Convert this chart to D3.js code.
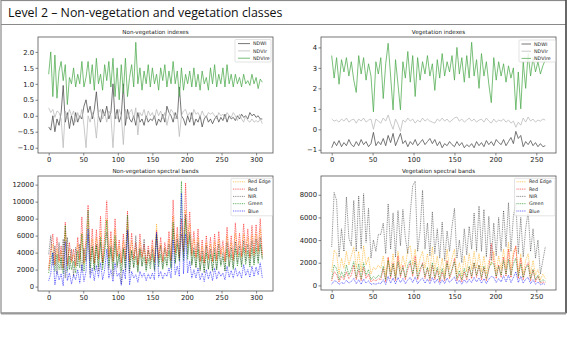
<!DOCTYPE html>
<html>
<head>
<meta charset="utf-8">
<script src="https://cdn.jsdelivr.net/npm/d3@7"></script>
<style>
body { margin: 0; background: #fff; }
svg { display: block; font-family: "DejaVu Sans", sans-serif; }
</style>
</head>
<body>
<svg id="chart" width="567" height="340"></svg>
<script>
var step = 3

// ---- Non-vegetation indexes (idx 0..309)
var nvNDWI = [-0.35,-0.45,0.0,-0.5,-0.1,-0.3,0.1,0.95,-0.2,0.1,
  -0.4,0.0,-0.3,0.1,-0.2,0.0,-0.1,0.3,0.5,0.1,
  0.3,-0.1,0.2,0.75,0.0,-0.2,0.2,0.0,0.3,-0.1,
  0.1,1.0,-0.1,0.2,-0.2,0.0,1.0,-0.3,0.2,-0.1,
  -0.2,0.0,-0.3,0.1,-0.2,-0.1,-0.3,0.0,-0.2,-0.1,
  -0.15,0.0,-0.3,-0.1,-0.2,0.05,-0.2,0.3,0.1,0.0,
  -0.2,0.1,-0.1,0.9,0.0,-0.1,-0.3,0.0,-0.2,0.1,
  -0.3,-0.1,-0.2,0.0,-0.35,-0.1,0.0,-0.2,-0.1,-0.25,
  -0.1,0.0,-0.2,-0.05,-0.15,0.05,-0.2,0.0,-0.1,-0.05,
  -0.15,0.0,-0.1,0.05,-0.05,0.0,-0.1,0.1,0.0,0.05,
  -0.05,0.0,-0.1,-0.1]
var nvNDVIr = [0.25,0.1,0.2,-0.05,0.15,0.1,-0.1,-1.0,0.15,-0.1,
  0.2,0.0,0.15,-0.2,0.1,-0.1,0.2,-0.3,-1.0,0.0,
  -0.2,0.1,-0.1,-0.7,0.1,0.2,-0.1,0.1,-0.2,0.15,
  0.0,-1.0,0.1,-0.1,0.2,0.0,-0.9,0.2,-0.1,0.1,
  0.2,-0.1,0.25,-0.6,0.1,0.0,0.2,-0.1,0.15,0.0,
  0.1,-0.1,0.2,0.0,0.15,-0.1,0.1,-0.3,0.0,0.2,
  0.1,-0.1,0.1,-0.65,0.0,0.15,0.2,0.0,0.1,-0.1,
  0.2,0.05,0.1,-0.05,0.15,0.0,-0.05,0.1,0.05,0.1,
  0.0,-0.1,0.1,0.0,0.05,-0.1,0.1,0.0,-0.05,0.1,
  0.0,-0.15,0.05,-0.1,-0.2,0.0,-0.15,-0.2,-0.1,-0.2,
  -0.15,-0.2,-0.1,-0.25]
var nvNDVIre = [1.3,2.0,0.6,1.9,0.55,1.4,1.7,1.1,1.6,0.35,
  1.2,1.0,1.5,0.9,1.3,1.0,1.7,0.9,1.2,1.7,
  1.0,1.6,0.8,1.8,1.0,1.3,0.8,1.6,1.1,1.7,
  0.9,1.8,0.6,1.5,0.5,1.6,0.7,1.8,0.6,1.2,
  1.6,0.9,2.3,1.0,1.5,0.8,1.4,1.0,1.6,0.9,
  1.5,1.0,1.3,0.8,1.5,1.1,1.6,0.9,1.4,1.0,
  1.7,1.0,1.4,0.6,1.5,0.8,1.3,1.0,1.4,0.9,
  1.5,0.9,1.3,0.8,1.4,1.0,1.2,0.8,1.5,1.0,
  1.6,0.9,1.3,1.0,1.5,0.9,1.6,1.0,1.3,0.9,
  1.3,1.0,1.2,0.9,1.3,1.0,1.1,0.95,1.3,1.0,
  1.2,0.85,1.15,1.05]

// ---- Vegetation indexes (idx 0..261)
var vNDWI = [-0.9,-0.6,-0.8,-0.55,-0.85,-0.65,-0.8,-0.5,-0.75,-0.85,
  -0.6,-0.8,-0.5,-0.75,-0.6,-0.85,-0.7,-0.15,-0.8,-0.6,
  -0.75,-0.45,-0.8,-0.3,-0.65,-0.2,-0.8,-0.5,-0.2,-0.7,
  -0.55,-0.85,-0.6,-0.75,-0.5,-0.8,-0.65,-0.5,-0.75,-0.6,
  -0.45,-0.7,-0.5,-0.8,-0.6,-0.9,-0.7,-0.8,-0.6,-0.75,
  -0.85,-0.6,-0.8,-0.65,-0.9,-0.75,-0.85,-0.7,-0.9,-0.6,
  -0.8,-0.65,-0.85,-0.55,-0.75,-0.6,-0.8,-0.5,-0.65,-0.75,
  -0.5,-0.8,-0.6,-0.4,-0.7,-0.1,-0.45,-0.3,-0.85,-0.6,
  -0.75,-0.55,-0.8,-0.65,-0.85,-0.7,-0.85,-0.8]
var vNDVIr = [0.5,0.4,0.45,0.35,0.5,0.4,0.55,0.35,0.45,0.5,
  0.3,0.5,0.4,0.55,0.35,0.45,0.5,0.0,0.5,0.4,
  0.3,0.55,0.4,0.7,0.3,0.0,0.5,0.25,-0.1,0.45,
  0.35,0.55,0.4,0.5,0.3,0.45,0.35,0.55,0.4,0.5,
  0.4,0.35,0.3,0.5,0.4,0.55,0.4,0.5,0.35,0.45,
  0.55,0.6,0.4,0.5,0.35,0.45,0.55,0.4,0.5,0.35,
  0.45,0.5,0.35,0.55,0.4,0.3,0.5,0.35,0.45,0.4,
  0.5,0.35,0.45,0.3,0.4,0.1,0.35,0.2,0.55,0.35,
  0.6,0.4,0.5,0.35,0.45,0.4,0.5,0.45]
var vNDVIre = [3.6,2.5,3.5,2.2,3.4,2.8,3.5,2.6,3.3,2.4,
  1.8,3.6,2.7,3.5,2.4,3.2,2.6,0.85,3.3,2.7,
  3.5,1.5,3.2,4.2,2.6,0.95,3.4,2.2,0.95,3.3,
  2.5,3.8,2.3,3.6,1.6,3.5,2.4,3.3,2.7,3.6,
  2.6,3.2,1.9,3.4,2.5,3.7,2.6,3.3,2.8,3.6,
  2.4,4.0,2.7,3.5,2.3,3.6,2.5,4.25,2.6,3.4,
  2.0,3.7,2.6,3.3,2.2,1.3,3.5,2.4,3.3,2.6,
  3.2,2.3,3.1,2.5,3.0,0.95,2.8,1.0,3.3,2.0,
  3.7,2.6,3.5,2.8,3.3,2.7,3.1,3.4]

// ---- Non-vegetation spectral bands (idx 0..309)
var nsRedEdge = [2200,4000,5000,2600,4500,2800,4200,2000,6500,2400,
  4500,2800,3800,2300,5000,2900,6300,2600,4800,7800,
  3000,5600,2700,5800,3100,6500,2800,5200,8000,3300,
  5600,2900,6800,3400,4800,2600,5400,3000,7600,2800,
  5400,3100,4600,2500,5300,3300,4400,2600,4200,3000,
  4800,2800,7400,3200,5000,2900,4600,3400,5600,3000,
  8300,3800,6200,3300,7000,4000,9000,4600,7400,3600,
  5600,3300,5800,2900,4800,2700,5200,3100,5000,2900,
  5300,3000,5600,3500,4700,2900,6000,3300,5200,3000,
  6300,3500,5400,3400,6200,3700,5800,3300,6100,3600,
  6200,3900,6800,3500]
var nsRed = [2000,4500,6200,2500,5800,3000,4800,2200,7600,2600,
  5200,3000,4400,2500,5800,3200,8200,2800,5600,9600,
  3200,6800,2800,6700,3300,8300,2900,6000,10100,3500,
  6500,3000,8000,3600,5500,2800,6200,3200,8900,3000,
  6300,3300,5200,2600,6200,3500,5000,2700,4800,3200,
  5500,2900,6600,3400,5800,3000,5200,3600,6500,3100,
  10200,4000,7000,3500,8000,4200,12200,5000,8800,3800,
  6500,3500,6800,3000,5500,2800,6000,3300,5800,3000,
  6200,3200,6500,3800,5400,3000,7000,3500,6000,3200,
  7500,3800,6300,3600,7400,4000,6800,3500,7200,3900,
  7300,4200,8000,3800]
var nsNIR = [3800,6000,2500,4800,1500,5200,2000,5600,1000,5800,
  2000,4400,1200,4600,2400,5000,1800,4500,3000,6200,
  1500,4800,2000,5000,1800,5200,2500,4200,6400,2000,
  4800,1200,5200,2200,4000,300,4600,1800,6500,1600,
  4200,2200,6000,1800,4500,2400,5600,2000,4300,2600,
  4400,2000,6000,2800,4800,2200,4500,2600,5000,2300,
  6800,2800,5600,3000,6200,3500,8500,3800,6400,2600,
  4600,2200,5200,1800,4200,1600,4800,2000,4400,1800,
  4500,2000,5000,2600,4000,1800,5200,2400,4600,2200,
  5300,2800,4800,2600,5400,3000,5000,2600,5400,2800,
  5600,3000,5800,3200]
var nsGreen = [1600,3200,4000,1800,3800,2000,3400,1500,7200,1800,
  3600,2000,3000,1600,4200,2200,6200,1800,4000,9000,
  2200,4600,1900,4800,2300,5800,2000,4200,7800,2400,
  4500,2000,6000,2500,3800,1800,4400,2200,8400,2000,
  4300,2300,3600,1700,4400,2400,3500,1800,3300,2100,
  3800,1900,6200,2300,3800,2000,3500,2400,4200,2100,
  7600,2700,5000,3000,12400,3000,8000,3200,6000,2500,
  4200,2300,4400,2000,3600,1800,4000,2100,3800,1900,
  4000,2000,4200,2400,3500,1900,4400,2300,3800,2000,
  4500,2400,4000,2300,4600,2600,4200,2300,4500,2500,
  4600,2700,5000,3200]
var nsBlue = [700,1500,4000,200,1800,800,1500,100,5300,700,
  1600,300,1400,800,2000,400,2600,600,1800,6800,
  1000,2200,700,2500,1100,2800,800,2000,4400,1000,
  2000,600,2800,1200,1600,150,2000,900,6700,200,
  1800,1000,1400,500,1800,1100,1600,700,1500,900,
  1600,800,6400,1100,1800,900,1600,1200,2200,1000,
  5500,1400,2400,1200,11000,1500,6200,1600,3000,1000,
  2000,1000,2200,800,1600,600,2000,900,1800,700,
  2200,900,1800,1200,1600,800,2400,1100,1900,1000,
  2200,1200,1800,1000,2600,1300,2000,1100,2400,1200,
  2300,1400,2800,1000]

// ---- Vegetation spectral bands (idx 0..261)
var vsRedEdge = [1200,3100,2800,1000,2400,1500,3000,1800,2600,3400,
  1500,3000,1200,3500,1800,2500,1000,1600,1400,1800,
  1500,2600,900,2400,1200,2800,900,3000,1400,2600,
  1600,3200,3500,1800,3200,1200,2400,3000,1500,2800,
  1200,3400,1300,2600,1000,2400,900,3200,1400,2400,
  3200,1000,2000,800,2600,1200,2800,1400,3000,1500,
  2800,1200,2600,1000,2200,1800,3000,1200,2600,1400,
  3200,1500,3800,1400,3000,3400,1200,2800,1000,2200,
  2800,1000,2200,900,1400,500,1000,600]
var vsRed = [400,1200,1000,300,800,500,1200,600,900,1800,
  500,1400,400,1600,600,1000,300,500,400,600,
  500,1500,300,2500,600,2000,400,2600,700,1800,
  500,1400,2000,800,2600,500,1200,2000,600,1500,
  400,1800,500,1400,300,1200,400,2200,600,1300,
  2400,400,1000,300,1200,500,1600,600,2000,700,
  1800,500,1600,400,1400,3700,2200,600,1800,700,
  2500,800,3200,700,2600,3500,600,2400,500,1600,
  2000,400,1400,300,800,200,300,250]
var vsNIR = [3400,8200,7500,2500,5000,3000,7800,4200,3500,7500,
  3000,7900,3200,8100,3800,6800,2400,4000,3000,4500,
  4500,5500,2800,7200,3200,6400,2500,6600,3500,6700,
  4200,2800,6400,8800,9200,3000,4800,8400,3200,5500,
  2600,6500,2800,5000,2400,5600,2200,4800,3000,5200,
  6800,2400,4000,2000,5000,2700,5200,3200,6400,3000,
  7000,3000,6700,2500,6100,2200,5500,2600,6000,3000,
  6600,3400,7300,3000,6100,7300,2800,6000,2500,5000,
  6500,3000,5000,2400,4000,1000,2200,3400]
var vsGreen = [600,1800,1500,500,1200,700,1800,900,1400,2100,
  700,1900,600,2000,900,1400,500,800,600,900,
  700,1700,500,2200,800,1900,600,2100,900,1600,
  700,1800,2200,1000,2100,700,1500,1900,800,1600,
  600,2000,700,1600,500,1500,600,2000,800,1400,
  2100,600,1300,500,1500,700,1700,800,2000,900,
  1800,700,1700,600,1500,2000,1900,800,1700,900,
  2200,1000,2300,900,1900,2400,800,1900,700,1500,
  1800,600,1400,500,900,300,500,400]
var vsBlue = [100,400,350,80,250,150,450,200,350,600,
  150,500,100,550,200,400,80,150,100,200,
  150,500,80,800,200,650,120,700,250,600,
  150,500,700,250,750,150,450,650,200,550,
  150,700,200,550,100,500,150,650,250,500,
  750,150,450,100,500,200,550,250,700,300,
  650,200,600,150,550,800,700,250,600,300,
  850,300,900,250,700,1200,250,800,200,550,
  700,150,500,100,300,50,150,80]

var xTicks = [0, 50, 100, 150, 200, 250, 300]
var xTicksV = [0, 50, 100, 150, 200, 250]
var yTicksNI = [-1.0, -0.5, 0.0, 0.5, 1.0, 1.5, 2.0]
var yTicksVI = [-1, 0, 1, 2, 3, 4]
var yTicksNS = [0, 2000, 4000, 6000, 8000, 10000, 12000]
var yTicksVS = [0, 2000, 4000, 6000, 8000]

var minus = function (s) { return s.replace('-', '\u2212') }

var panels = [
  { title: 'Non-vegetation indexes', box: [38, 37, 273, 153],
    xt: xTicks, yt: yTicksNI, yf: function (d) { return minus(d3.format('.1f')(d)) },
    legend: { x: 235, y: 39.5, w: 36, h: 22.5, hx0: 238, hx1: 250, tx: 253, ry: [43.6, 50.9, 58.2] },
    series: [
      { name: 'NDWI', data: nvNDWI, color: '#4a4a4a' },
      { name: 'NDVIr', data: nvNDVIr, color: '#b8b8b8' },
      { name: 'NDVIre', data: nvNDVIre, color: '#4caa4c' }] },
  { title: 'Vegetation indexes', box: [321, 37, 556, 153],
    xt: xTicksV, yt: yTicksVI, yf: function (d) { return minus(String(d)) },
    legend: { x: 519, y: 40, w: 36.5, h: 22, hx0: 521.5, hx1: 531, tx: 534, ry: [44, 51.2, 58.4] },
    series: [
      { name: 'NDWI', data: vNDWI, color: '#4a4a4a' },
      { name: 'NDVIr', data: vNDVIr, color: '#b8b8b8' },
      { name: 'NDVIre', data: vNDVIre, color: '#4caa4c' }] },
  { title: 'Non-vegetation spectral bands', box: [38, 176, 273, 291],
    xt: xTicks, yt: yTicksNS, yf: String,
    legend: { x: 231, y: 178.3, w: 41.5, h: 37.5, hx0: 233, hx1: 245, tx: 248, ry: [181.8, 189.1, 196.4, 203.7, 211] },
    series: [
      { name: 'Red Edge', data: nsRedEdge, color: 'orange', dot: true },
      { name: 'Red', data: nsRed, color: 'red', dot: true },
      { name: 'NIR', data: nsNIR, color: 'black', dot: true },
      { name: 'Green', data: nsGreen, color: 'green', dot: true },
      { name: 'Blue', data: nsBlue, color: 'blue', dot: true }] },
  { title: 'Vegetation spectral bands', box: [321, 176, 556, 290],
    xt: xTicksV, yt: yTicksVS, yf: String,
    legend: { x: 514.5, y: 178.3, w: 40.5, h: 37.5, hx0: 516.5, hx1: 526, tx: 529, ry: [181.8, 189.1, 196.4, 203.7, 211] },
    series: [
      { name: 'Red Edge', data: vsRedEdge, color: 'orange', dot: true },
      { name: 'Red', data: vsRed, color: 'red', dot: true },
      { name: 'NIR', data: vsNIR, color: 'black', dot: true },
      { name: 'Green', data: vsGreen, color: 'green', dot: true },
      { name: 'Blue', data: vsBlue, color: 'blue', dot: true }] }
]

var svg = d3.select('#chart')

// slide frame + heading
svg.append('rect').attr('x', 1).attr('y', 0.5).attr('width', 565).attr('height', 312.5)
  .attr('fill', 'none').attr('stroke', '#8a8a8a').attr('stroke-width', 1.2)
svg.append('line').attr('x1', 1).attr('x2', 566).attr('y1', 24.5).attr('y2', 24.5)
  .attr('stroke', '#8a8a8a').attr('stroke-width', 1)
svg.append('line').attr('x1', 566).attr('x2', 566).attr('y1', 0).attr('y2', 313)
  .attr('stroke', '#333').attr('stroke-width', 1.2)
svg.append('line').attr('x1', 1).attr('x2', 566).attr('y1', 313.5).attr('y2', 313.5)
  .attr('stroke', '#9a9a9a').attr('stroke-width', 1.8)
var heading = svg.append('text').attr('x', 8).attr('y', 17)
  .style('font-family', '"Open Sans", Lato, sans-serif').style('font-weight', 400)
  .style('font-size', '16px').attr('fill', '#111')
  .text('Level 2 \u2013 Non-vegetation and vegetation classes')
// squeeze to the reference width
var hw = heading.node().getComputedTextLength()
heading.style('font-size', (16 * 275 / hw) + 'px')

function pad(ext) {
  var m = (ext[1] - ext[0]) * 0.05
  return [ext[0] - m, ext[1] + m]
}

function styleLine(sel) {
  sel.attr('stroke', function (s) { return s.color })
    .attr('stroke-width', function (s) { return s.dot ? 1 : 0.75 })
    .attr('stroke-dasharray', function (s) { return s.dot ? '1,0.8' : null })
    .attr('stroke-opacity', function (s) { return s.dot ? (s.color == 'black' ? 0.45 : 0.6) : 1 })
}

panels.forEach(function (p, k) {
  var g = svg.append('g')
  var n = p.series[0].data.length
  var allY = []
  p.series.forEach(function (s) { allY = allY.concat(s.data) })

  var x = d3.scaleLinear().domain(pad([0, (n - 1) * step])).range([p.box[0], p.box[2]])
  var y = d3.scaleLinear().domain(pad(d3.extent(allY))).range([p.box[3], p.box[1]])

  g.append('clipPath').attr('id', 'clip' + k).append('rect')
    .attr('x', p.box[0]).attr('y', p.box[1])
    .attr('width', p.box[2] - p.box[0]).attr('height', p.box[3] - p.box[1])

  var line = d3.line().x(function (d, i) { return x(i * step) }).y(function (d) { return y(d) })

  g.append('g').attr('clip-path', 'url(#clip' + k + ')')
    .selectAll('path').data(p.series).enter().append('path')
    .attr('d', function (s) { return line(s.data) })
    .attr('fill', 'none')
    .call(styleLine)

  // axes
  var ax = g.append('g').attr('transform', 'translate(0,' + p.box[3] + ')')
    .call(d3.axisBottom(x).tickValues(p.xt).tickSize(2.5).tickPadding(1.5))
  var ay = g.append('g').attr('transform', 'translate(' + p.box[0] + ',0)')
    .call(d3.axisLeft(y).tickValues(p.yt).tickFormat(p.yf).tickSize(2.5).tickPadding(1.5))
  ;[ax, ay].forEach(function (a) {
    a.select('.domain').remove()
    a.selectAll('line').attr('stroke', '#333').attr('stroke-width', 0.6)
    a.selectAll('text').attr('fill', '#222').style('font-size', '6.8px')
      .style('font-family', '"DejaVu Sans", sans-serif')
  })

  // spines
  g.append('rect').attr('x', p.box[0]).attr('y', p.box[1])
    .attr('width', p.box[2] - p.box[0]).attr('height', p.box[3] - p.box[1])
    .attr('fill', 'none').attr('stroke', '#555').attr('stroke-width', 0.8)

  g.append('text').attr('x', (p.box[0] + p.box[2]) / 2).attr('y', p.box[1] - 3.5)
    .attr('text-anchor', 'middle').style('font-size', '5.6px').attr('fill', '#222')
    .text(p.title)

  // legend
  var L = p.legend
  var lg = g.append('g')
  lg.append('rect').attr('x', L.x).attr('y', L.y).attr('width', L.w).attr('height', L.h)
    .attr('rx', 1).attr('fill', '#fff').attr('fill-opacity', 0.85)
    .attr('stroke', '#d0d0d0').attr('stroke-width', 0.6)
  var items = lg.selectAll('g.it').data(p.series).enter().append('g').attr('class', 'it')
  items.append('line')
    .attr('x1', L.hx0).attr('x2', L.hx1)
    .attr('y1', function (s, i) { return L.ry[i] }).attr('y2', function (s, i) { return L.ry[i] })
    .call(styleLine)
  items.append('text').attr('x', L.tx)
    .attr('y', function (s, i) { return L.ry[i] })
    .attr('dy', '0.35em').style('font-size', '4.8px').attr('fill', '#222')
    .text(function (s) { return s.name })
})
</script>
</body>
</html>
